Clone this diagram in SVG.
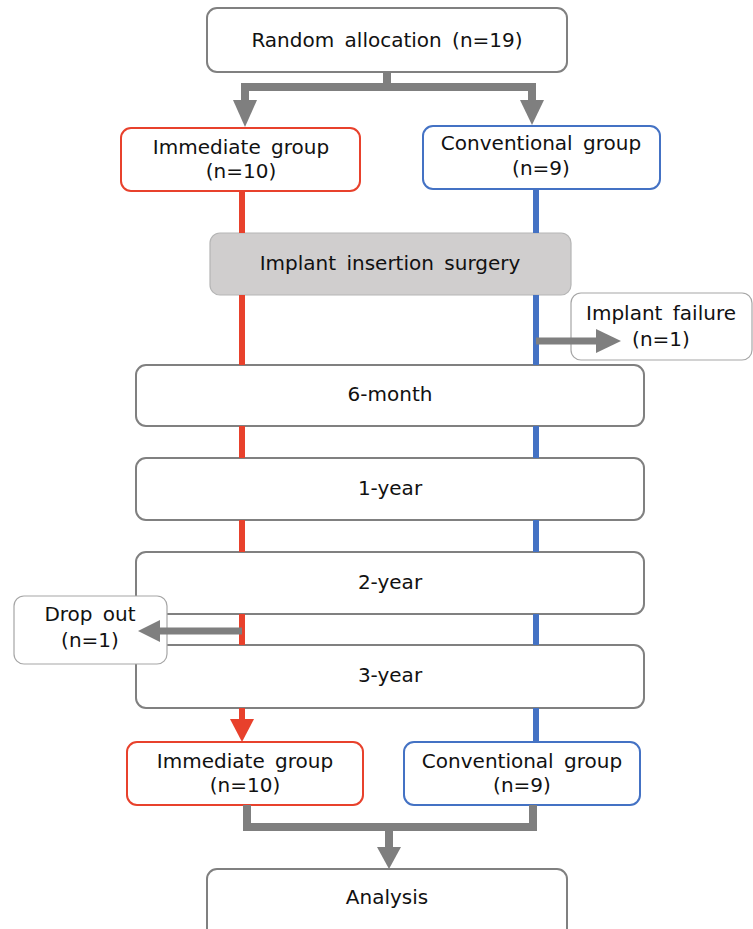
<svg xmlns="http://www.w3.org/2000/svg" width="753" height="929" viewBox="0 0 753 929">
<style>
text{font-family:"DejaVu Sans","Verdana",sans-serif;font-size:20px;word-spacing:4px;fill:#111;text-anchor:middle}
.box{fill:#fff;stroke:#808080;stroke-width:2}
.side{fill:#fff;stroke:#a6a6a6;stroke-width:1.2}
.red{fill:#fff;stroke:#e8412c;stroke-width:2}
.blue{fill:#fff;stroke:#4472c4;stroke-width:2}
.gl{fill:none;stroke:#7f7f7f;stroke-width:8}
.ga{fill:#7f7f7f}
.rl{stroke:#e8412c;stroke-width:6;fill:none}
.bl{stroke:#4472c4;stroke-width:6;fill:none}
</style>
<g id="random"><rect class="box" x="207" y="8" width="360" height="64" rx="10"/><text x="387" y="47">Random allocation (n=19)</text></g>
<g id="immediate1"><rect class="red" x="121" y="128" width="239" height="63" rx="10"/><text x="241" y="154">Immediate group</text><text x="241" y="178">(n=10)</text></g>
<g id="conventional1"><rect class="blue" x="423" y="126" width="237" height="63" rx="10"/><text x="541" y="150">Conventional group</text><text x="541" y="175">(n=9)</text></g>
<g id="surgery"><rect x="210" y="233" width="361" height="62" rx="10" fill="#d0cece" stroke="#b5b5b5" stroke-width="1.2"/><text x="390" y="270">Implant insertion surgery</text></g>
<g id="m6"><rect class="box" x="136" y="365" width="508" height="61" rx="10"/><text x="390" y="401">6-month</text></g>
<g id="y1"><rect class="box" x="136" y="458" width="508" height="62" rx="10"/><text x="390" y="495">1-year</text></g>
<g id="y2"><rect class="box" x="136" y="552" width="508" height="62" rx="10"/><text x="390" y="589">2-year</text></g>
<g id="y3"><rect class="box" x="136" y="645" width="508" height="63" rx="10"/><text x="390" y="682">3-year</text></g>
<g id="failure"><rect class="side" x="571" y="293" width="181" height="67" rx="10"/><text x="661" y="320">Implant failure</text><text x="661" y="346">(n=1)</text></g>
<g id="dropout"><rect class="side" x="14" y="596" width="153" height="68" rx="10"/><text x="90" y="621">Drop out</text><text x="90" y="647">(n=1)</text></g>
<g id="immediate2"><rect class="red" x="127" y="742" width="236" height="63" rx="10"/><text x="245" y="768">Immediate group</text><text x="245" y="792">(n=10)</text></g>
<g id="conventional2"><rect class="blue" x="404" y="742" width="236" height="63" rx="10"/><text x="522" y="768">Conventional group</text><text x="522" y="792">(n=9)</text></g>
<g id="analysis"><rect class="box" x="207" y="869" width="360" height="80" rx="10"/><text x="387" y="904">Analysis</text></g>
<g id="connectors">
<path class="gl" d="M387,72 V87 M245,102 V87 H532 V102"/>
<polygon class="ga" points="233,100 257,100 245,127"/>
<polygon class="ga" points="520,100 544,100 532,125"/>
<path class="rl" d="M242,192 V233 M242,295 V365 M242,426 V458 M242,520 V552 M242,614 V645 M242,708 V721"/>
<polygon fill="#e8412c" points="230,719 254,719 242,742"/>
<path class="bl" d="M536,189 V233 M536,295 V365 M536,426 V458 M536,520 V552 M536,614 V645 M536,708 V742"/>
<path class="gl" style="stroke-width:7" d="M536,341 H598"/>
<polygon class="ga" points="596,329 596,353 621,341"/>
<path class="gl" style="stroke-width:7" d="M242,631 H158"/>
<polygon class="ga" points="160,620 160,642 138,631"/>
<path class="gl" d="M247,805 V827 H533 V805 M389,827 V849"/>
<polygon class="ga" points="377,847 401,847 389,869"/>
</g>
</svg>
